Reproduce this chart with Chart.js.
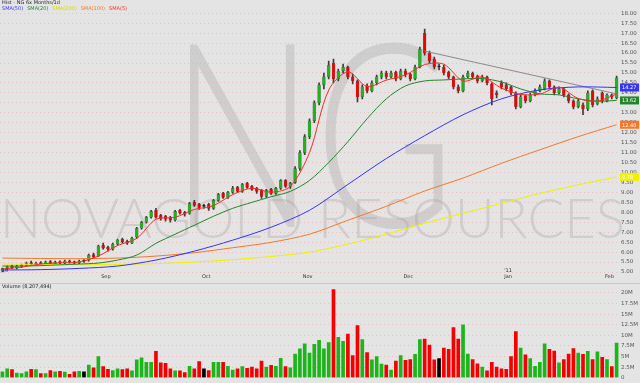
<!DOCTYPE html>
<html lang="en">
<head>
<meta charset="UTF-8">
<title>NG 6 Months</title>
<style>
    html, body { margin: 0; padding: 0; background: #e4e4e4; }
    #wrap { position: relative; width: 640px; height: 383px; overflow: hidden; }
    #price-box { position: absolute; left: 0; top: 0; width: 640px; height: 283px; }
    #vol-box { position: absolute; left: 0; top: 283px; width: 640px; height: 100px; }
</style>
</head>
<body>
<div id="wrap">
    <div id="price-box"><canvas id="price-chart"></canvas></div>
    <div id="vol-box"><canvas id="volume-chart"></canvas></div>
</div>

<script src="https://cdn.jsdelivr.net/npm/chart.js"></script>
<script>
// daily bars, early Aug 2010 .. early Feb 2011
const opens = [
    5.05, 5.15, 5.3, 5.2, 5.28, 5.35, 5.48, 5.38, 5.47, 5.4,
    5.52, 5.42, 5.52, 5.45, 5.56, 5.52, 5.46, 5.55, 5.6, 5.88,
    5.8, 6.35, 6.25, 6.15, 6.4, 6.65, 6.55, 6.45, 6.75, 7.2,
    7.5, 7.75, 8.1, 7.85, 7.8, 7.75, 7.6, 8.1, 8.0, 7.95,
    8.5, 8.4, 8.3, 8.4, 8.2, 8.6, 8.95, 8.75, 9.0, 9.25,
    9.05, 9.45, 9.3, 9.2, 9.1, 8.8, 9.15, 8.95, 9.2, 9.6,
    9.3, 9.5, 10.2, 11.0, 11.8, 12.6, 13.5, 14.4, 14.8, 15.5,
    14.7, 15.1, 15.3, 14.8, 14.6, 13.8, 14.35, 14.1, 14.5, 14.8,
    15.0, 14.8, 15.05, 14.7, 15.1, 14.95, 14.7, 15.3, 17.0, 16.0,
    15.7, 15.3, 15.3, 15.05, 14.8, 14.3, 14.1, 14.8, 15.0, 14.85,
    14.6, 14.8, 14.45, 14.0, 14.5, 14.4, 14.3, 14.0, 13.3, 13.85,
    13.6, 13.9, 14.1, 14.2, 14.6, 14.3, 14.0, 14.2, 13.9, 13.6,
    13.3, 13.4, 13.2, 14.1, 13.45, 14.0, 13.6, 13.9, 13.75
];
const highs = [
    5.2, 5.3, 5.35, 5.35, 5.4, 5.5, 5.55, 5.5, 5.52, 5.55,
    5.58, 5.55, 5.56, 5.6, 5.6, 5.55, 5.6, 5.62, 5.9, 5.95,
    6.35, 6.45, 6.3, 6.45, 6.65, 6.7, 6.6, 6.75, 7.25, 7.55,
    7.8, 8.1, 8.2, 7.9, 7.85, 7.8, 8.1, 8.15, 8.05, 8.5,
    8.6, 8.45, 8.4, 8.45, 8.65, 8.95, 9.0, 9.05, 9.3, 9.3,
    9.45, 9.5, 9.35, 9.25, 9.15, 9.15, 9.2, 9.25, 9.65, 9.65,
    9.5, 10.3, 11.1, 11.9, 12.7, 13.6, 14.5, 15.0, 15.6, 15.7,
    15.2, 15.45, 15.35, 14.95, 14.65, 14.4, 14.45, 14.6, 14.9, 15.1,
    15.1, 15.1, 15.1, 15.2, 15.2, 15.0, 15.4, 16.3, 17.2, 16.1,
    15.8, 15.45, 15.4, 15.1, 14.85, 14.4, 14.9, 15.1, 15.05, 14.9,
    14.9, 14.85, 14.5, 14.1, 14.6, 14.5, 14.35, 14.05, 13.9, 13.9,
    14.0, 14.2, 14.4, 14.7, 14.65, 14.35, 14.3, 14.25, 13.95, 13.65,
    13.7, 13.5, 14.1, 14.15, 13.8, 14.05, 13.95, 13.95, 14.85
];
const lows = [
    5.0, 5.1, 5.15, 5.15, 5.22, 5.3, 5.33, 5.33, 5.35, 5.36,
    5.38, 5.38, 5.4, 5.42, 5.44, 5.4, 5.42, 5.48, 5.55, 5.7,
    5.78, 6.15, 6.05, 6.1, 6.35, 6.45, 6.38, 6.42, 6.7, 7.15,
    7.45, 7.7, 7.7, 7.6, 7.55, 7.5, 7.55, 7.9, 7.8, 7.9,
    8.3, 8.15, 8.2, 8.1, 8.15, 8.55, 8.7, 8.7, 8.95, 9.0,
    9.0, 9.2, 9.1, 8.95, 8.7, 8.75, 8.9, 8.9, 9.15, 9.25,
    9.2, 9.45, 10.1, 10.9, 11.7, 12.5, 13.4, 14.2, 14.7, 14.5,
    14.6, 15.0, 14.7, 14.45, 13.55, 13.7, 14.0, 14.05, 14.4, 14.7,
    14.7, 14.75, 14.6, 14.65, 14.8, 14.6, 14.65, 15.25, 15.9, 15.5,
    15.2, 15.15, 14.9, 14.7, 14.2, 14.0, 14.05, 14.75, 14.7, 14.5,
    14.55, 14.4, 13.4, 13.75, 14.2, 14.1, 13.9, 13.2, 13.25, 13.5,
    13.55, 13.85, 14.05, 14.15, 14.2, 13.9, 13.95, 13.8, 13.5, 13.2,
    13.25, 12.9, 13.1, 13.3, 13.4, 13.5, 13.55, 13.7, 13.7
];
const closes = [
    5.15, 5.25, 5.2, 5.3, 5.35, 5.45, 5.38, 5.45, 5.4, 5.5,
    5.42, 5.5, 5.45, 5.55, 5.5, 5.45, 5.55, 5.55, 5.85, 5.75,
    6.3, 6.2, 6.15, 6.4, 6.6, 6.5, 6.45, 6.7, 7.2, 7.5,
    7.75, 8.05, 7.75, 7.7, 7.65, 7.6, 8.05, 7.95, 7.9, 8.45,
    8.35, 8.25, 8.3, 8.2, 8.6, 8.9, 8.75, 9.0, 9.2, 9.05,
    9.4, 9.25, 9.15, 9.05, 8.8, 9.1, 8.95, 9.2, 9.6, 9.3,
    9.45, 10.2, 11.0, 11.8, 12.6, 13.5, 14.4, 14.8, 15.4, 14.7,
    15.1, 15.3, 14.8, 14.6, 13.8, 14.3, 14.1, 14.5, 14.8, 15.0,
    14.8, 15.0, 14.7, 15.1, 14.9, 14.7, 15.3, 16.2, 16.0, 15.6,
    15.3, 15.3, 15.0, 14.8, 14.3, 14.1, 14.8, 15.0, 14.8, 14.6,
    14.8, 14.5, 13.7, 13.9, 14.3, 14.2, 14.0, 13.3, 13.8, 13.6,
    13.9, 14.1, 14.3, 14.6, 14.3, 14.0, 14.2, 13.9, 13.6, 13.3,
    13.6, 13.2, 14.0, 13.4, 13.7, 13.6, 13.9, 13.8, 14.75
];
// volume in millions
const volumes = [
    1.4, 2.1, 1.9, 1.1, 1.0, 1.4, 2.0, 1.9, 1.0, 1.0,
    1.7, 1.4, 1.5, 1.3, 0.8, 1.4, 1.5, 1.4, 3.0, 2.3,
    5.0, 2.6, 2.0, 1.7, 2.1, 1.9, 2.1, 1.6, 4.2, 4.7,
    3.6, 3.6, 6.2, 3.5, 3.4, 2.1, 1.6, 1.6, 1.2, 2.7,
    2.1, 3.8, 2.1, 1.7, 3.6, 3.6, 3.6, 2.7, 1.8, 2.1,
    2.6, 2.2, 2.5, 2.1, 3.9, 2.5, 2.9, 2.7, 4.6, 2.6,
    2.3, 5.6, 6.8, 8.0, 5.8, 7.9, 8.8, 6.8, 8.3, 20.8,
    9.5, 8.6, 10.3, 5.2, 12.3, 9.0, 5.9, 4.2, 5.0, 3.2,
    3.0, 1.8, 3.9, 5.2, 4.1, 4.3, 5.5, 9.0, 9.1, 7.7,
    4.2, 4.5, 7.0, 6.7, 11.8, 9.1, 12.5, 5.6, 4.3, 3.3,
    2.5, 1.6, 3.6, 2.5, 2.1, 2.0, 5.0, 10.9, 7.0, 5.4,
    4.5, 2.7, 3.6, 8.0, 6.7, 6.3, 3.5, 4.3, 5.6, 6.9,
    5.8, 5.5, 6.2, 4.3, 6.1, 4.8, 4.3, 2.6, 8.2
];

// moving averages at every 4th / 8th bar
const fastIdx = [0, 4, 8, 12, 16, 20, 24, 28, 32, 36, 40, 44, 48, 52, 56, 60, 64,
    68, 72, 76, 80, 84, 88, 92, 96, 100, 104, 108, 112, 116, 120, 124, 128];
const slowIdx = [0, 8, 16, 24, 32, 40, 48, 56, 64, 72, 80, 88, 96, 104, 112, 120, 128];
const sma5 = [5.15, 5.25, 5.4, 5.46, 5.5, 5.8, 6.33, 6.69, 7.65, 7.75, 8.14, 8.34, 8.89, 9.21, 9.01, 9.3, 11.0,
    14.14, 15.06, 14.32, 14.64, 14.9, 15.42, 15.44, 14.6, 14.8, 14.24, 13.92, 13.94, 14.28, 13.72, 13.58, 13.95];
const sma20 = [5.3, 5.3, 5.32, 5.36, 5.4, 5.45, 5.6, 5.85, 6.44, 6.9, 7.35, 7.8, 8.2, 8.5, 8.78, 9.05, 9.6,
    10.5, 11.55, 12.7, 13.7, 14.35, 14.6, 14.65, 14.7, 14.72, 14.55, 14.2, 13.95, 13.9, 13.7, 13.58, 13.62];
const sma50 = [5.1, 5.12, 5.18, 5.3, 5.6, 6.05, 6.6, 7.25, 8.1, 9.4, 10.7, 11.85, 12.9, 13.7, 14.15, 14.3, 14.27];
const sma100 = [5.7, 5.68, 5.67, 5.7, 5.8, 5.97, 6.22, 6.49, 6.9, 7.6, 8.3, 9.07, 9.72, 10.46, 11.14, 11.8, 12.4];
const sma200 = [5.4, 5.38, 5.37, 5.38, 5.42, 5.5, 5.62, 5.78, 6.0, 6.4, 6.9, 7.45, 7.95, 8.45, 8.95, 9.38, 9.78];
const trendIdx = [88, 128];
const trendVals = [16.1, 13.95];

const monthStart = [0, 21, 42, 63, 84, 105, 126];
const monthNames = ['', 'Sep', 'Oct', 'Nov', 'Dec', 'Jan', 'Feb'];
const yearNames = ["'10", '', '', '', '', "'11", ''];
const priceTitle = 'Hist - NG 6x Months/1d';
const volumeTitle = 'Volume (8,207,494)';
const watermarkBig = 'NG';
const watermarkName = 'NOVAGOLD RESOURCES';

const labels = closes.map((c, i) => String(i));

const UP = '#1cb51c', DOWN = '#f50000', FLAT = '#000000';
const colBlue = '#3535f5', colGreen = '#23862a', colYellow = '#f0f000', colOrange = '#f5782a', colRed = '#ff2a2a';

function barColor(i) {
    if (closes[i] > opens[i]) return UP;
    if (closes[i] < opens[i]) return DOWN;
    return FLAT;
}

function sparse(idx, vals) {
    const d = labels.map(() => null);
    idx.forEach((k, i) => { d[k] = vals[i]; });
    return d;
}

function lineSet(label, idx, vals, color, order) {
    return {
        type: 'line', label: label, data: sparse(idx, vals),
        borderColor: color, borderWidth: 1, pointRadius: 0,
        spanGaps: true, tension: 0.3, order: order
    };
}

const tinyFont = '5px "DejaVu Sans", sans-serif';

const bgPlugin = {
    id: 'bg',
    beforeDraw(chart) {
        const ctx = chart.ctx;
        ctx.save();
        ctx.fillStyle = '#e4e4e4';
        ctx.fillRect(0, 0, chart.width, chart.height);
        ctx.restore();
    }
};

const watermarkPlugin = {
    id: 'watermark',
    beforeDraw(chart) {
        const ctx = chart.ctx;
        ctx.save();
        ctx.fillStyle = 'rgba(160,160,160,0.33)';
        ctx.textBaseline = 'alphabetic';
        ctx.textAlign = 'left';

        ctx.font = '300 258px Lato, "DejaVu Sans", sans-serif';
        let w = ctx.measureText(watermarkBig).width;
        ctx.save();
        ctx.translate(170, 227);
        ctx.scale(285 / w, 1);
        ctx.fillText(watermarkBig, 0, 0);
        ctx.restore();

        ctx.font = '300 56px Lato, "DejaVu Sans", sans-serif';
        w = ctx.measureText(watermarkName).width;
        ctx.translate(0, 238);
        ctx.scale(625 / w, 1);
        ctx.fillText(watermarkName, 0, 0);
        ctx.restore();
    }
};

const priceTextPlugin = {
    id: 'priceText',
    afterDraw(chart) {
        const ctx = chart.ctx;
        const x = chart.scales.x, y = chart.scales.y;
        ctx.save();
        ctx.font = tinyFont;
        ctx.textBaseline = 'middle';
        ctx.textAlign = 'left';
        ctx.fillStyle = '#222';
        ctx.fillText(priceTitle, 2, 3);

        const legend = [['SMA(50)', colBlue], ['SMA(20)', colGreen], ['SMA(200)', '#d8d800'],
            ['SMA(100)', colOrange], ['SMA(5)', colRed]];
        let lx = 2;
        legend.forEach(([t, c]) => {
            ctx.fillStyle = c;
            ctx.fillText(t, lx, 9);
            lx += ctx.measureText(t).width + 4;
        });

        // month axis
        ctx.fillStyle = '#333';
        monthStart.forEach((k, i) => {
            const px = x.getPixelForValue(k) - 2;
            if (yearNames[i]) ctx.fillText(yearNames[i], px, 271);
            if (monthNames[i]) ctx.fillText(monthNames[i], px, 277);
        });

        // last value tags on the price axis
        const tags = [[sma50, colBlue, '#fff'], [sma20, colGreen, '#fff'],
            [sma100, colOrange, '#fff'], [sma200, colYellow, '#fff']];
        tags.forEach(([arr, c, tc]) => {
            const v = arr[arr.length - 1];
            const py = y.getPixelForValue(v);
            ctx.fillStyle = c;
            ctx.fillRect(x.right + 1, py - 4, 19, 8);
            ctx.fillStyle = tc;
            ctx.fillText(v.toFixed(2), x.right + 3, py + 0.5);
        });
        ctx.restore();
    }
};

const volumeTextPlugin = {
    id: 'volumeText',
    afterDraw(chart) {
        const ctx = chart.ctx;
        ctx.save();
        ctx.strokeStyle = '#c8c8c8';
        ctx.lineWidth = 1;
        ctx.beginPath();
        ctx.moveTo(0, 0.5);
        ctx.lineTo(chart.width, 0.5);
        ctx.stroke();
        ctx.font = tinyFont;
        ctx.textBaseline = 'middle';
        ctx.fillStyle = '#222';
        ctx.fillText(volumeTitle, 2, 4);
        ctx.restore();
    }
};

function rightAxis(min, max, step, fmt) {
    return {
        position: 'right', min: min, max: max,
        afterFit: s => { s.width = 21; },
        afterBuildTicks: s => {
            const t = [];
            for (let v = Math.ceil(s.min / step - 1e-9) * step; v <= s.max + 1e-9; v += step) {
                t.push({ value: Math.round(v * 100) / 100 });
            }
            s.ticks = t;
        },
        ticks: { autoSkip: false, font: { size: 5.5, family: '"DejaVu Sans", sans-serif' }, color: '#555', padding: 2, callback: fmt },
        grid: { color: 'rgba(232,160,160,0.55)', drawTicks: false, lineWidth: 1 },
        border: { display: false, dash: [1, 3] }
    };
}

new Chart(document.getElementById('price-chart'), {
    type: 'bar',
    data: {
        labels: labels,
        datasets: [
            lineSet('SMA(5)', fastIdx, sma5, colRed, 0),
            lineSet('SMA(20)', fastIdx, sma20, colGreen, 1),
            lineSet('SMA(50)', slowIdx, sma50, colBlue, 1),
            lineSet('SMA(100)', slowIdx, sma100, colOrange, 1),
            lineSet('SMA(200)', slowIdx, sma200, colYellow, 1),
            {
                type: 'line', label: 'trend', data: sparse(trendIdx, trendVals),
                borderColor: '#8a8a8a', borderWidth: 1, pointRadius: 0, spanGaps: true, order: 1
            },
            {
                label: 'body', data: opens.map((o, i) => [o, closes[i]]),
                backgroundColor: ctx => barColor(ctx.dataIndex),
                borderColor: 'rgba(40,40,40,0.5)', borderWidth: 0.5, borderSkipped: false,
                barThickness: 3, minBarLength: 1, grouped: false, order: 5
            },
            {
                label: 'wick', data: lows.map((l, i) => [l, highs[i]]),
                backgroundColor: '#3c3c3c', barThickness: 1, grouped: false, order: 6
            }
        ]
    },
    options: {
        responsive: true, maintainAspectRatio: false, animation: false,
        layout: { padding: { top: 2, bottom: 9, left: 0, right: 0 } },
        plugins: { legend: { display: false }, tooltip: { enabled: false } },
        scales: {
            x: { display: false, offset: true },
            y: rightAxis(4.9, 18.4, 0.5, v => v.toFixed(2))
        }
    },
    plugins: [bgPlugin, watermarkPlugin, priceTextPlugin]
});

new Chart(document.getElementById('volume-chart'), {
    type: 'bar',
    data: {
        labels: labels,
        datasets: [{
            label: 'Volume', data: volumes,
            backgroundColor: ctx => barColor(ctx.dataIndex),
            barThickness: 3
        }]
    },
    options: {
        responsive: true, maintainAspectRatio: false, animation: false,
        layout: { padding: { top: 5, bottom: 1, left: 0, right: 0 } },
        plugins: { legend: { display: false }, tooltip: { enabled: false } },
        scales: {
            x: { display: false, offset: true },
            y: rightAxis(0, 21.1, 2.5, v => v === 0 ? '0' : v + 'M')
        }
    },
    plugins: [bgPlugin, volumeTextPlugin]
});
</script>
</body>
</html>
